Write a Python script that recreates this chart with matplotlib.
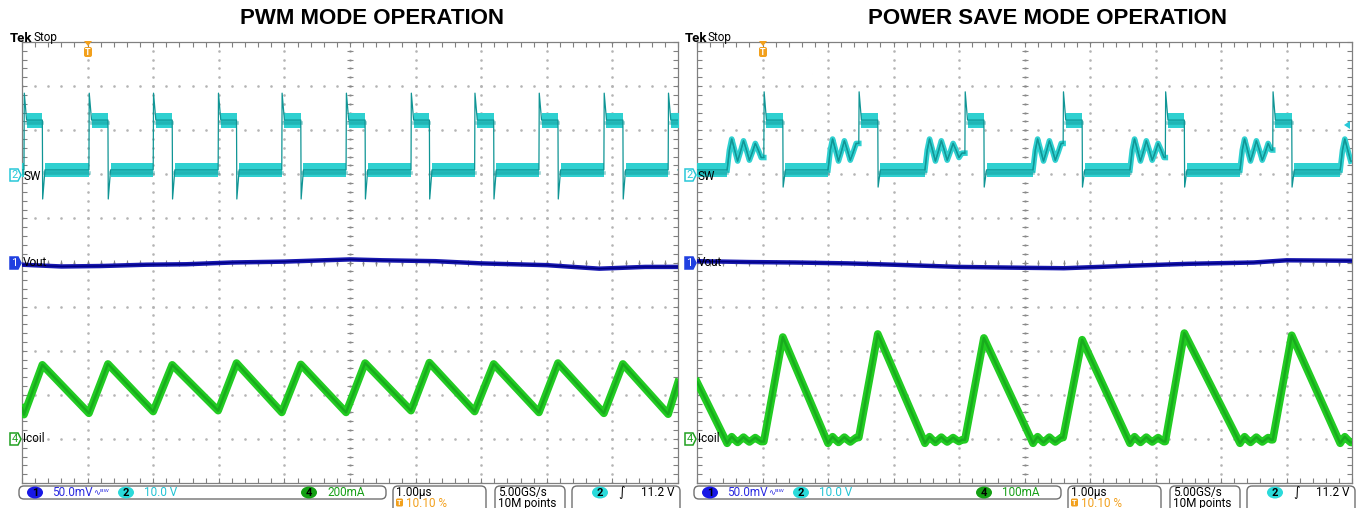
import numpy as np
import matplotlib.pyplot as plt
from matplotlib.patches import FancyBboxPatch, Ellipse, Polygon

W, H = 1356, 508

# time in divisions (1.00 us/div, 0..10), level in divisions (centre line = 0)

# ---- PWM mode (left screen) ----
sw_rise_pwm = [0.03, 1.02, 2.00, 2.99, 3.96, 4.94, 5.93, 6.90, 7.88, 8.87, 9.85]
sw_fall_pwm = [0.31, 1.31, 2.29, 3.27, 4.25, 5.23, 6.21, 7.19, 8.17, 9.16, 10.14]
sw_lvl_pwm = {"low": 2.10, "high": 3.23, "up": 3.84, "dn": 1.44}

icoil_t_pwm = [0.0, 0.03, 0.31, 1.02, 1.31, 2.00, 2.29, 2.99, 3.27, 3.96, 4.25,
               4.94, 5.23, 5.93, 6.21, 6.90, 7.19, 7.88, 8.17, 8.87, 9.16, 9.85, 10.0]
icoil_pwm = [-3.30, -3.45, -2.32, -3.42, -2.30, -3.38, -2.32, -3.36, -2.28, -3.40, -2.31,
             -3.40, -2.28, -3.36, -2.27, -3.38, -2.30, -3.40, -2.28, -3.42, -2.30, -3.44, -2.72]

vout_t_pwm = [0, 0.6, 1.2, 1.9, 2.5, 3.2, 4.0, 5.0, 5.5, 6.3, 7.0, 8.0, 8.8, 9.5, 10]
vout_pwm = [-0.05, -0.09, -0.08, -0.05, -0.04, 0.0, 0.02, 0.07, 0.05, 0.03, -0.02, -0.06,
            -0.14, -0.10, -0.10]

# ---- Power save mode (right screen) ----
sw_rise_ps = [1.02, 2.47, 4.09, 5.59, 7.15, 8.79]
sw_fall_ps = [1.31, 2.76, 4.38, 5.88, 7.44, 9.08]
sw_lvl_ps = {"low": 2.10, "high": 3.23, "up": 3.87, "dn": 1.71}
ring_start_ps = [0.46, 2.00, 3.48, 5.13, 6.61, 8.29, 9.82]
ring_dt = [0.0, 0.035, 0.07, 0.115, 0.16, 0.205, 0.25, 0.295, 0.34, 0.385, 0.43, 0.475, 0.52, 0.565, 0.61]
ring_sw = [2.10, 2.55, 2.80, 2.55, 2.30, 2.52, 2.76, 2.55, 2.32, 2.50, 2.70, 2.55, 2.38, 2.48, 2.62]
ring_icoil = [-4.10, -4.02, -3.95, -4.02, -4.08, -4.02, -3.96, -4.02, -4.07, -4.02, -3.97,
              -4.02, -4.06, -4.02, -3.98]

icoil_start_ps = -2.71
icoil_peak_ps = [-1.69, -1.62, -1.71, -1.75, -1.60, -1.65]

vout_t_ps = [0, 0.8, 1.5, 2.3, 3.0, 4.0, 5.0, 5.6, 6.5, 7.5, 8.5, 9.0, 10]
vout_ps = [0.03, 0.01, 0.0, -0.02, -0.05, -0.10, -0.12, -0.13, -0.08, -0.03, 0.0, 0.05, 0.04]

CY, CY_D = "#2fd0d0", "#109595"
GR, GR_D = "#22cc22", "#12961a"
BL, BL_D = "#1818b0", "#000080"
OR = "#f2a01c"


def ring(s, end, levels):
    pts = [(s + d, lv) for d, lv in zip(ring_dt, levels) if s + d < end]
    return [p[0] for p in pts], [p[1] for p in pts]


def sw_trace(rise, fall, lv, rings=()):
    t, v = [0.0], [lv["low"]]
    segs = []
    for r, f in zip(rise, fall):
        for s in rings:
            if t[-1] <= s < r:
                rt, rv = ring(s, r, ring_sw)
                segs.append((rt + [r], rv + [rv[-1]]))
                t += rt
                v += rv
        t += [r, r + 0.005, r + 0.04, f, f + 0.005, f + 0.04]
        v += [v[-1], lv["up"], lv["high"], lv["high"], lv["dn"], lv["low"]]
    for s in rings:
        if t[-1] <= s < 10:
            rt, rv = ring(s, 10.0, ring_sw)
            segs.append((rt, rv))
            t += rt
            v += rv
    t.append(10.0)
    v.append(v[-1])
    return t, v, segs


def icoil_ps_trace():
    t, v = [0.0], [icoil_start_ps]
    ends = sw_rise_ps + [10.0]
    for i, s in enumerate(ring_start_ps):
        rt, rv = ring(s, ends[i], ring_icoil)
        t += rt
        v += rv
        if i < len(sw_fall_ps):
            t += [ends[i], sw_fall_ps[i]]
            v += [rv[-1], icoil_peak_ps[i]]
    t.append(10.0)
    v.append(v[-1])
    return t, v


def draw_sw(ax, t, v, lv, segs):
    ax.plot(t, v, color=CY_D, lw=0.9, zorder=4)
    for i in range(len(t) - 1):
        if v[i] == v[i + 1] and v[i] in (lv["low"], lv["high"]) and t[i + 1] > t[i]:
            ax.fill_between([t[i], t[i + 1]], v[i] - 0.17, v[i] + 0.16,
                            color=CY, lw=0, zorder=3)
            ax.plot([t[i], t[i + 1]], [v[i] - 0.06] * 2, color=CY_D, lw=2.6,
                    alpha=0.45, zorder=4)
    for st, sv in segs:
        ax.plot(st, sv, color=CY, lw=4, zorder=3)
        ax.plot(st, sv, color=CY_D, lw=1.0, alpha=0.8, zorder=4)


def draw_icoil(ax, t, v):
    ax.plot(t, v, color=GR, lw=5.5, zorder=3, solid_joinstyle="round")
    ax.plot(t, v, color=GR_D, lw=1.8, alpha=0.6, zorder=4)


def draw_vout(ax, t, v):
    ax.plot(t, v, color=BL, lw=3.2, zorder=3)
    ax.plot(t, v, color=BL_D, lw=1, zorder=4)


def screen(ax):
    ax.set_xlim(0, 10)
    ax.set_ylim(-5, 5)
    ax.set_facecolor("white")
    for sp in ax.spines.values():
        sp.set_color("#808080")
        sp.set_linewidth(0.9)
    ax.set_xticks(np.arange(0, 10.01, 1))
    ax.set_yticks(np.arange(-5, 5.01, 1))
    ax.set_xticks(np.arange(0, 10.01, 0.2), minor=True)
    ax.set_yticks(np.arange(-5, 5.01, 0.2), minor=True)
    ax.tick_params(which="both", direction="in", length=3.5, width=0.8, color="#808080",
                   top=True, right=True, labelbottom=False, labelleft=False)
    fine_x = np.arange(0, 10.01, 0.2)
    fine_y = np.arange(-5, 5.01, 0.2)
    for k in range(1, 10):
        ax.plot(np.full_like(fine_y, k), fine_y, ls="none", marker="s", ms=0.8,
                color="#b4b4b4", zorder=1)
    for k in range(-4, 5):
        ax.plot(fine_x, np.full_like(fine_x, k), ls="none", marker="s", ms=0.8,
                color="#b4b4b4", zorder=1)
    ax.plot(np.full_like(fine_y, 5), fine_y, ls="none", marker="_", ms=5, mew=0.8,
            color="#8a8a8a", zorder=1)
    ax.plot(fine_x, np.zeros_like(fine_x), ls="none", marker="|", ms=5, mew=0.8,
            color="#8a8a8a", zorder=1)


fig = plt.figure(figsize=(W / 100, H / 100), dpi=100)
ax_l = fig.add_axes([22 / W, (H - 483) / H, 656 / W, 441 / H])
ax_r = fig.add_axes([697 / W, (H - 483) / H, 655 / W, 441 / H])
screen(ax_l)
screen(ax_r)

# left traces
t, v, segs = sw_trace(sw_rise_pwm, sw_fall_pwm, sw_lvl_pwm)
draw_sw(ax_l, t, v, sw_lvl_pwm, segs)
draw_vout(ax_l, vout_t_pwm, vout_pwm)
draw_icoil(ax_l, icoil_t_pwm, icoil_pwm)

# right traces
t, v, segs = sw_trace(sw_rise_ps, sw_fall_ps, sw_lvl_ps, ring_start_ps)
draw_sw(ax_r, t, v, sw_lvl_ps, segs)
draw_vout(ax_r, vout_t_ps, vout_ps)
ti, vi = icoil_ps_trace()
draw_icoil(ax_r, ti, vi)

# overlay in pixel coordinates for the scope decorations
ov = fig.add_axes([0, 0, 1, 1], facecolor="none")
ov.set_xlim(0, W)
ov.set_ylim(H, 0)
ov.axis("off")

FONT = "Roboto"


def marker(x, y, num, col, filled):
    pts = [(x, y - 6), (x + 8, y - 6), (x + 11, y), (x + 8, y + 6), (x, y + 6)]
    ov.add_patch(Polygon(pts, closed=True, fc=col if filled else "white", ec=col, lw=1.1))
    ov.text(x + 4.5, y + 0.5, num, color="white" if filled else col, fontsize=8,
            family=FONT, ha="center", va="center")


def chip(x, y, num, col):
    ov.add_patch(Ellipse((x, y), 16, 12, fc=col, ec="none"))
    ov.text(x, y + 0.5, num, color="black", fontsize=8, family=FONT, weight="bold",
            ha="center", va="center")


def box(x0, x1, y0, y1):
    ov.add_patch(FancyBboxPatch((x0, y0), x1 - x0, y1 - y0,
                                boxstyle="round,pad=0,rounding_size=5",
                                fc="none", ec="#707070", lw=1.0))


def decorate(ox, title, amp):
    ov.text(ox + 372, 18, title, fontsize=16, weight="bold", family="Liberation Sans",
            ha="center", va="center")
    ov.text(ox + 10, 38, "Tek", fontsize=9.5, weight="bold", family=FONT, va="center")
    ov.text(ox + 33, 37.5, "Stop", fontsize=8.5, family=FONT, va="center")
    # trigger position
    ov.add_patch(Polygon([(ox + 84, 41), (ox + 92, 41), (ox + 88, 46)], fc=OR, ec="none"))
    ov.add_patch(FancyBboxPatch((ox + 84, 47), 8, 10, boxstyle="round,pad=0,rounding_size=2",
                                fc=OR, ec="none"))
    ov.text(ox + 88, 52.5, "T", color="white", fontsize=6.5, weight="bold", family=FONT,
            ha="center", va="center")
    # channel markers
    marker(ox + 10, 175, "2", "#28c8d8", False)
    ov.text(ox + 23, 176, "SW", fontsize=8.5, family=FONT, va="center")
    marker(ox + 10, 263, "1", "#2040e0", True)
    ov.text(ox + 23, 263, "Vout", fontsize=8.5, family=FONT, va="center")
    marker(ox + 10, 439, "4", "#20a020", False)
    ov.text(ox + 23, 439, "Icoil", fontsize=8.5, family=FONT, va="center")
    # status bar
    box(ox + 19, ox + 386, 486, 499)
    chip(ox + 35, 492.5, "1", "#1818e6")
    ov.text(ox + 52, 493, "50.0mV", color="#2a2ae0", fontsize=8.5, family=FONT, va="center")
    ov.text(ox + 93, 492, "\u223f\u1d2e\u1d42", color="#2a2ae0", fontsize=6, family="DejaVu Sans",
            va="center")
    chip(ox + 126, 492.5, "2", "#2adada")
    ov.text(ox + 144, 493, "10.0 V", color="#22c4d4", fontsize=8.5, family=FONT, va="center")
    chip(ox + 309, 492.5, "4", "#14a014")
    ov.text(ox + 327, 493, amp, color="#18a018", fontsize=8.5, family=FONT, va="center")
    box(ox + 393, ox + 486, 486, 515)
    ov.text(ox + 396, 492.5, "1.00\u00b5s", fontsize=8.5, family=FONT, va="center")
    ov.add_patch(FancyBboxPatch((ox + 396, 498.5), 7, 8, boxstyle="round,pad=0,rounding_size=1.5",
                                fc=OR, ec="none"))
    ov.text(ox + 399.5, 502.8, "T", color="white", fontsize=5.5, weight="bold", family=FONT,
            ha="center", va="center")
    ov.text(ox + 406, 503.5, "10.10 %", color=OR, fontsize=8.5, family=FONT, va="center")
    box(ox + 495, ox + 565, 486, 515)
    ov.text(ox + 498, 492.5, "5.00GS/s", fontsize=8.5, family=FONT, va="center")
    ov.text(ox + 498, 503.5, "10M points", fontsize=8.5, family=FONT, va="center")
    box(ox + 572, ox + 680, 486, 515)
    chip(ox + 600, 492.5, "2", "#2adada")
    ov.text(ox + 618, 492.5, "\u222b", fontsize=9, family="DejaVu Sans", va="center")
    ov.text(ox + 641, 493, "11.2 V", fontsize=8.5, family=FONT, va="center")


decorate(0, "PWM MODE OPERATION", "200mA")
decorate(675, "POWER SAVE MODE OPERATION", "100mA")
ov.add_patch(Polygon([(1344, 125), (1350, 121), (1350, 129)], fc="#28c8d8", ec="none"))

fig.savefig("out.png", dpi=100)
